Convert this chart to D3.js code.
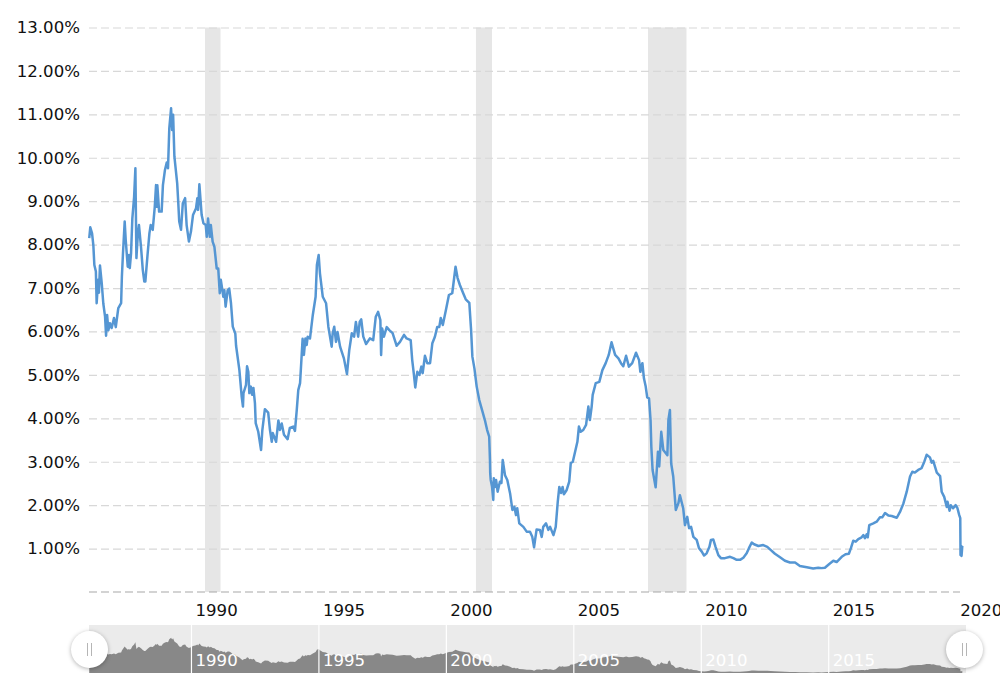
<!DOCTYPE html>
<html>
<head>
<meta charset="utf-8">
<script src="https://d3js.org/d3.v7.min.js"></script>
<style>
html,body{margin:0;padding:0;background:#fff;overflow:hidden}
svg,svg .axis{display:block;font-family:"DejaVu Sans",Verdana,sans-serif}
.axis path{display:none}
.y .tick line{stroke:#d8d8d8;stroke-width:1.2;stroke-dasharray:8 4}
.y .tick text,.x .tick text{font-size:16.6px;fill:#111}
.x .tick line{display:none}
.nav .tick line{stroke:#fff;stroke-width:1.2}
.nav .tick text{font-size:16.6px;fill:#fff}
.handle{filter:drop-shadow(0 1px 2px rgba(0,0,0,.3))}
</style>
</head>
<body>
<svg id="c" width="1000" height="673"></svg>
<script>
const years = [
1986.01,1986.05,1986.12,1986.17,1986.21,1986.27,1986.30,1986.36,1986.39,1986.43,1986.50,1986.56,1986.63,1986.67,1986.71,1986.76,1986.82,1986.89,1986.98,
1987.05,1987.15,1987.26,1987.29,1987.33,1987.40,1987.44,1987.52,1987.57,1987.60,1987.65,1987.70,1987.77,1987.82,1987.86,1987.91,1987.96,
1988.04,1988.11,1988.17,1988.21,1988.29,1988.37,1988.42,1988.50,1988.58,1988.63,1988.66,1988.68,1988.75,1988.85,1988.90,1988.98,
1989.05,1989.10,1989.15,1989.22,1989.26,1989.30,1989.35,1989.46,1989.50,1989.54,1989.61,1989.68,1989.77,1989.83,1989.92,
1990.00,1990.08,1990.20,1990.25,1990.28,1990.33,1990.42,1990.49,1990.58,1990.62,1990.67,1990.74,1990.78,1990.85,1990.92,
1991.01,1991.07,1991.13,1991.17,1991.27,1991.31,1991.36,1991.44,1991.50,1991.57,1991.64,1991.74,1991.77,1991.90,1991.99,
1992.04,1992.06,1992.16,1992.20,1992.25,1992.29,1992.35,1992.40,1992.45,1992.51,1992.54,1992.64,1992.75,1992.80,1992.90,
1993.03,1993.10,1993.17,1993.21,1993.34,1993.43,1993.49,1993.56,1993.65,1993.79,1993.88,
1994.01,1994.08,1994.15,1994.21,1994.28,1994.34,1994.38,1994.43,1994.49,1994.54,1994.58,1994.67,1994.78,1994.89,1994.94,
1995.01,1995.06,1995.17,1995.30,1995.39,1995.52,1995.56,1995.62,1995.69,1995.75,1995.85,
1996.00,1996.12,1996.21,1996.31,1996.40,1996.47,1996.56,1996.62,1996.68,1996.76,1996.87,
1997.02,1997.15,1997.25,1997.34,1997.43,1997.46,1997.50,1997.57,1997.68,1997.78,1997.91,
1998.07,1998.20,1998.36,1998.46,1998.62,1998.68,1998.74,1998.80,1998.88,1998.96,
1999.04,1999.09,1999.18,1999.27,1999.38,1999.47,1999.57,1999.66,1999.74,1999.80,1999.88,
2000.00,2000.12,2000.25,2000.38,2000.46,2000.55,2000.68,2000.78,2000.92,2000.99,
2001.04,2001.12,2001.21,2001.31,2001.44,2001.53,2001.62,2001.70,2001.73,2001.74,2001.76,2001.81,2001.86,2001.88,2001.93,2001.97,
2002.03,2002.12,2002.18,2002.23,2002.32,2002.41,2002.52,2002.61,2002.69,2002.75,2002.80,2002.88,
2003.04,2003.17,2003.30,2003.39,2003.46,2003.50,2003.56,2003.69,2003.76,2003.82,2003.93,
2004.02,2004.09,2004.22,2004.31,2004.39,2004.45,2004.52,2004.58,2004.63,2004.74,2004.84,2004.90,2004.98,
2005.07,2005.16,2005.22,2005.29,2005.39,2005.50,2005.59,2005.65,2005.72,2005.76,2005.88,
2006.02,2006.14,2006.27,2006.39,2006.50,2006.64,2006.77,2006.87,2006.96,
2007.07,2007.18,2007.31,2007.46,2007.58,2007.63,2007.71,2007.77,2007.84,2007.90,2007.97,
2008.03,2008.06,2008.11,2008.23,2008.32,2008.37,2008.45,2008.53,2008.69,2008.73,2008.79,2008.84,2008.92,
2009.02,2009.12,2009.18,2009.31,2009.38,2009.47,2009.54,2009.62,2009.71,2009.84,2009.93,
2010.04,2010.13,2010.23,2010.34,2010.40,2010.49,2010.58,2010.69,2010.79,2010.95,
2011.15,2011.28,2011.41,2011.54,2011.67,2011.80,2011.89,
2012.00,2012.09,2012.26,2012.45,2012.61,2012.74,2012.91,
2013.11,2013.30,2013.50,2013.70,2013.89,
2014.16,2014.41,2014.61,2014.74,2014.87,
2015.03,2015.20,2015.33,2015.53,2015.68,2015.81,2015.89,2015.98,
2016.08,2016.18,2016.31,2016.38,2016.44,2016.51,2016.55,2016.61,2016.77,2016.90,
2017.03,2017.12,2017.23,2017.36,2017.49,2017.69,2017.82,2017.95,
2018.08,2018.21,2018.30,2018.40,2018.53,2018.66,2018.77,2018.86,2018.99,
2019.06,2019.12,2019.26,2019.39,2019.45,2019.55,2019.65,2019.68,2019.76,2019.81,2019.90,
2020.00,2020.07,2020.14,2020.18,2020.19,2020.22,2020.23,2020.26
];
const rates = [
8.15,8.40,8.26,7.99,7.53,7.38,6.65,7.19,6.89,7.52,7.11,6.65,6.34,5.90,6.38,6.03,6.19,6.08,6.31,
6.10,6.54,6.65,7.26,7.76,8.53,8.11,7.49,7.76,7.46,7.80,8.60,9.10,9.76,7.69,8.18,8.45,
7.95,7.42,7.15,7.15,7.72,8.26,8.45,8.34,8.87,9.37,8.87,9.37,8.76,8.76,9.37,9.72,
9.89,9.76,10.68,11.14,10.64,10.99,10.03,9.41,8.99,8.53,8.34,8.95,9.07,8.45,8.07,
8.30,8.68,8.84,9.07,8.80,9.39,8.68,8.49,8.45,8.18,8.60,8.18,8.45,8.07,7.95,
7.45,7.45,6.88,7.19,6.80,6.95,6.57,6.95,6.99,6.65,6.11,5.95,5.67,5.11,4.50,
4.27,4.58,4.77,5.20,5.07,4.58,4.73,4.54,4.70,4.35,3.89,3.69,3.27,3.73,4.21,
4.13,3.73,3.46,3.66,3.46,3.95,3.73,3.88,3.62,3.52,3.78,
3.81,3.71,4.19,4.65,4.81,5.42,5.83,5.46,5.84,5.69,5.88,5.84,6.38,6.80,7.53,
7.76,7.34,6.80,6.65,6.11,5.65,5.96,6.11,5.76,5.99,5.65,
5.38,5.02,5.57,5.96,5.88,6.22,5.88,6.22,6.28,5.88,5.71,
5.84,5.80,6.34,6.45,6.26,5.46,6.07,5.88,6.10,6.03,5.96,
5.67,5.76,5.92,5.84,5.80,5.34,5.04,4.71,5.07,5.00,
5.19,5.04,5.44,5.27,5.27,5.73,5.88,6.10,6.10,6.31,6.15,
6.49,6.84,6.88,7.49,7.23,7.07,6.88,6.74,6.66,6.03,
5.42,5.15,4.73,4.42,4.15,3.96,3.73,3.58,3.04,2.73,2.58,2.43,2.12,2.62,2.42,2.58,
2.31,2.54,2.51,3.04,2.69,2.58,2.27,1.89,1.96,1.77,1.93,1.58,
1.50,1.39,1.39,1.27,1.03,1.20,1.44,1.43,1.27,1.50,1.58,
1.43,1.50,1.31,1.50,2.08,2.42,2.28,2.42,2.25,2.35,2.54,2.97,3.00,
3.23,3.46,3.81,3.69,3.73,3.85,4.27,3.96,4.27,4.54,4.81,
4.84,5.11,5.27,5.46,5.75,5.46,5.38,5.27,5.20,
5.44,5.19,5.27,5.51,5.34,5.07,5.27,4.92,4.73,4.48,4.46,
3.96,3.35,2.81,2.41,3.23,2.89,3.69,3.27,3.15,3.96,4.19,2.96,2.66,
1.89,2.04,2.23,1.93,1.54,1.73,1.47,1.50,1.27,1.20,1.01,
0.93,0.84,0.89,1.04,1.20,1.21,1.04,0.85,0.78,0.78,
0.81,0.78,0.74,0.74,0.79,0.89,1.01,
1.14,1.10,1.06,1.08,1.04,0.97,0.88,
0.80,0.72,0.68,0.68,0.60,
0.57,0.54,0.56,0.55,0.56,
0.64,0.72,0.69,0.81,0.87,0.88,1.01,1.18,
1.16,1.22,1.26,1.31,1.24,1.33,1.26,1.54,1.58,1.62,
1.72,1.72,1.82,1.76,1.75,1.71,1.85,2.04,
2.31,2.66,2.77,2.75,2.81,2.85,3.00,3.16,3.10,
2.98,3.02,2.75,2.67,2.31,2.19,1.96,2.08,1.87,2.00,1.93,
2.00,1.93,1.77,1.70,0.85,1.06,0.83,1.06
];
const recessionStart = [1990.55, 2001.18, 2007.93];
const recessionEnd = [1991.16, 2001.81, 2009.44];
const yTicks = [1,2,3,4,5,6,7,8,9,10,11,12,13];
const xTicks = [1990,1995,2000,2005,2010,2015,2020];
const navTicks = [1990,1995,2000,2005,2010,2015];

const svg = d3.select("#c");
const x = d3.scaleLinear().domain([1986, 2020.26]).range([89, 962.3]);
const y = d3.scaleLinear().domain([0, 13]).range([592, 27.5]);
const yNav = d3.scaleLinear().domain([0, 13]).range([674.2, 631.8]);
const points = years.map((t, i) => ({t, v: rates[i]}));

// recession bands
svg.append("g").selectAll("rect").data(recessionStart).join("rect")
  .attr("x", d => x(d)).attr("width", (d, i) => x(recessionEnd[i]) - x(d))
  .attr("y", y(13)).attr("height", y(0) - y(13)).attr("fill", "#e6e6e6");

// y axis + grid
const yAxis = d3.axisLeft(y).tickValues(yTicks).tickSize(-871).tickPadding(9)
  .tickFormat(d => d.toFixed(2) + "%");
svg.append("g").attr("class", "axis y").attr("transform", "translate(89,0)").call(yAxis);

// baseline
svg.append("line").attr("x1", 89).attr("x2", 960).attr("y1", y(0)).attr("y2", y(0))
  .attr("stroke", "#a8a8a8").attr("stroke-width", 1.2).attr("stroke-dasharray", "8 4");

// x axis
const xAxis = d3.axisBottom(x).tickValues(xTicks).tickSize(0).tickFormat(d3.format("d"));
const gx = svg.append("g").attr("class", "axis x").attr("transform", "translate(0,592)").call(xAxis);
gx.selectAll("text").attr("text-anchor", "start").attr("dx", 4).attr("y", 12);

// line
svg.append("path").datum(points)
  .attr("fill", "none").attr("stroke", "#5596d3").attr("stroke-width", 2.5).attr("stroke-linejoin", "round")
  .attr("d", d3.line().x(d => x(d.t)).y(d => y(d.v)));

// navigator
svg.append("rect").attr("x", 89).attr("y", 625).attr("width", 877).attr("height", 48).attr("fill", "#ebebeb");
svg.append("path").datum(points).attr("fill", "#888888")
  .attr("d", d3.area().x(d => x(d.t)).y0(673).y1(d => yNav(d.v)));
const navAxis = d3.axisBottom(x).tickValues(navTicks).tickSize(48).tickFormat(d3.format("d"));
const gn = svg.append("g").attr("class", "axis nav").attr("transform", "translate(0,625)").call(navAxis);
gn.selectAll("text").attr("text-anchor", "start").attr("dx", 4).attr("y", 41).attr("dy", 0);

// handles
[89.5, 964.5].forEach(cx => {
  const h = svg.append("g").attr("class", "handle").attr("transform", `translate(${cx},649.5)`);
  h.append("circle").attr("r", 18.5).attr("fill", "#fff");
  [-2, 2].forEach(dx => h.append("line").attr("x1", dx).attr("x2", dx).attr("y1", -6.5).attr("y2", 6.5)
    .attr("stroke", "#b5b5b5").attr("stroke-width", 1));
});
</script>
</body>
</html>
